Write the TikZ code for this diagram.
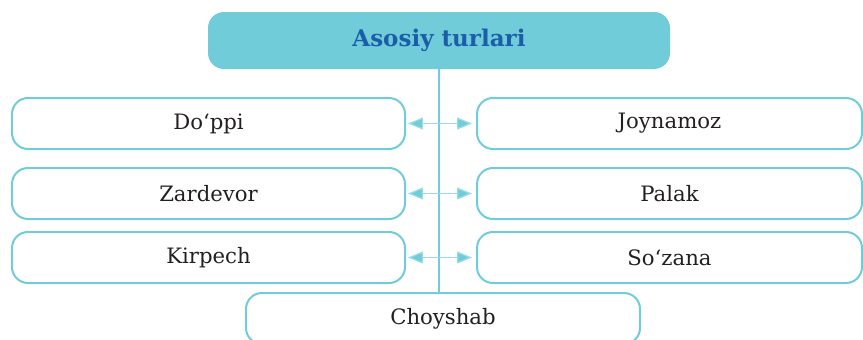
\documentclass[tikz,border=0pt]{standalone}
\usepackage{fontspec}
\setmainfont{DejaVu Serif}
\usetikzlibrary{arrows.meta}
\definecolor{boxcyan}{HTML}{6FCCD8}
\definecolor{linkcyan}{HTML}{9CDCE5}
\definecolor{titleblue}{HTML}{1B5DA8}
\definecolor{textgray}{HTML}{231F20}
\tikzset{
    item/.style={draw=boxcyan, line width=2pt, rounded corners=16pt, minimum height=51pt, text=textgray, font=\fontsize{21.2}{25}\selectfont},
    link/.style={{Triangle[length=15pt,width=12pt,fill=boxcyan]}-{Triangle[length=15pt,width=12pt,fill=boxcyan]}, draw=linkcyan, line width=1.2pt, shorten <=2pt, shorten >=4pt},
}
\begin{document}
\begin{tikzpicture}[x=1pt, y=-1pt]
    \useasboundingbox (0,0) rectangle (863,340);

    % title
    \node[fill=boxcyan, rounded corners=16pt, minimum width=462pt, minimum height=57pt, text=titleblue, font=\fontsize{23}{27}\selectfont\bfseries] (title) at (439,40.5) {Asosiy turlari};

    % left column
    \node[item, minimum width=393pt] (doppi) at (208.5,123.5) {Do‘ppi};
    \node[item, minimum width=393pt] (zardevor) at (208.5,193.5) {Zardevor};
    \node[item, minimum width=393pt] (kirpech) at (208.5,257.5) {Kirpech};

    % right column
    \node[item, minimum width=385pt] (joynamoz) at (669.5,123.5) {Joynamoz};
    \node[item, minimum width=385pt] (palak) at (669.5,193.5) {Palak};
    \node[item, minimum width=385pt] (sozana) at (669.5,257.5) {So‘zana};

    \node[item, minimum width=394pt] (choyshab) at (443,318.5) {Choyshab};

    \draw[boxcyan, line width=2pt] (title.south) -- (title.south |- choyshab.north);

    \draw[link] (doppi) -- (joynamoz);
    \draw[link] (zardevor) -- (palak);
    \draw[link] (kirpech) -- (sozana);
\end{tikzpicture}
\end{document}
